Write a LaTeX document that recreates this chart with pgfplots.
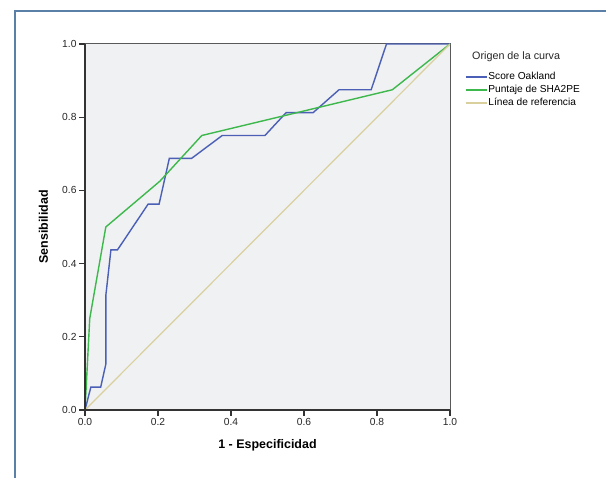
\documentclass[border=0pt]{standalone}
\usepackage{fontspec}
\setmainfont{Liberation Sans}
\usepackage{pgfplots}
\pgfplotsset{compat=1.18}
\definecolor{frameblue}{HTML}{5B80A8}
\definecolor{rocblue}{HTML}{4A5FB5}
\definecolor{rocgreen}{HTML}{3DB84C}
\definecolor{reftan}{HTML}{D9D09E}
\definecolor{plotbg}{HTML}{F0F1F2}

\begin{document}
\begin{tikzpicture}[x=1bp,y=1bp]
\path[use as bounding box] (0,0) rectangle (606,478);
\draw[frameblue, line width=1.5bp] (15,0) -- (15,467) -- (606,467);

\begin{axis}[
    at={(85bp,68bp)}, anchor=south west,
    width=365bp, height=366bp, scale only axis,
    xmin=0, xmax=1, ymin=0, ymax=1,
    xtick={0,0.2,...,1.0}, ytick={0,0.2,...,1.0},
    tick align=outside, major tick length=6bp,
    xtick pos=bottom, ytick pos=left,
    tick style={black!80, line width=1.2bp},
    axis background/.style={fill=plotbg},
    axis line style={black!65, line width=1bp},
    ticklabel style={font=\fontsize{10.3}{12}\selectfont, text=black!85},
    /pgf/number format/.cd, fixed, fixed zerofill, precision=1, assume math mode=true,
    /pgfplots/.cd,
    xticklabel style={yshift=1bp},
    yticklabel style={xshift=1bp},
    xlabel={\bfseries 1 - Especificidad},
    ylabel={\bfseries Sensibilidad},
    label style={font=\fontsize{12.5}{14}\selectfont},
    xlabel style={at={(axis description cs:0.5,-0.096)}, anchor=center},
    ylabel style={at={(axis description cs:-0.114,0.5)}, anchor=center},
    legend style={at={(axis description cs:1.04,0.9285)}, anchor=north west,
        draw=none, fill=none, inner sep=0pt, row sep=0pt,
        font=\fontsize{10.2}{12}\selectfont,
        nodes={inner sep=1bp, text height=8.3bp, text depth=2.7bp}},
    legend cell align=left,
    legend image code/.code={\draw[#1, line width=1.6bp] (0bp,0bp) -- (21bp,0bp);},
    after end axis/.code={
        \draw[black!80, line width=2bp] (rel axis cs:0,1) -- (rel axis cs:0,0) -- (rel axis cs:1,0);
    },
]

% Score Oakland
\addplot[rocblue, line width=1.4bp] coordinates {
    (0,0) (0.016,0.0625) (0.043,0.0625) (0.057,0.125) (0.057,0.3125)
    (0.071,0.4375) (0.089,0.4375) (0.173,0.5625) (0.203,0.5625)
    (0.231,0.6875) (0.292,0.6875) (0.376,0.75) (0.493,0.75)
    (0.551,0.8125) (0.625,0.8125) (0.696,0.875) (0.784,0.875)
    (0.826,1) (1,1)
};
\addlegendentry{Score Oakland}

% Puntaje de SHA2PE
\addplot[rocgreen, line width=1.4bp] coordinates {
    (0,0) (0.013,0.25) (0.057,0.5) (0.205,0.625) (0.320,0.75)
    (0.842,0.875) (1,1)
};
\addlegendentry{Puntaje de SHA2PE}

% Linea de referencia
\addplot[reftan, line width=1.2bp] coordinates {(0,0) (1,1)};
\addlegendentry{Línea de referencia}

\end{axis}

\node[anchor=west, inner sep=0pt, font=\fontsize{10.8}{13}\selectfont, text=black!85]
    at (472,421.5) {Origen de la curva};
\end{tikzpicture}
\end{document}
